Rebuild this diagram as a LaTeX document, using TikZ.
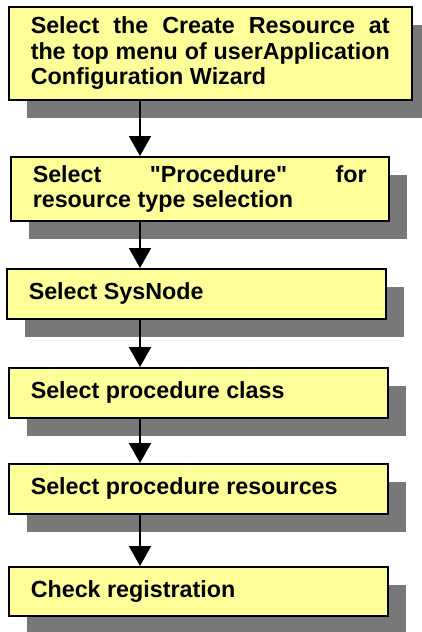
\documentclass[tikz,border=0pt]{standalone}
\usepackage{fontspec}
\setmainfont{Liberation Sans}
\usetikzlibrary{arrows.meta,shadows}
\definecolor{boxyellow}{RGB}{255,255,153}
\definecolor{shadowgray}{RGB}{120,120,120}

\begin{document}
\begin{tikzpicture}[x=1pt,y=1pt,
    stepbox/.style={draw, line width=1.5pt, fill=boxyellow, anchor=north west,
        inner xsep=22pt, inner ysep=0pt, align=justify,
        font=\fontsize{23.3}{25.5}\selectfont\bfseries,
        drop shadow={shadow xshift=18pt, shadow yshift=-18pt, fill=shadowgray, opacity=1}},
    flow/.style={line width=2pt, -{Triangle[width=22pt,length=20pt]}}]
    \useasboundingbox (0,0) rectangle (422,-632);

    \node[stepbox, text width=359pt, minimum height=93pt] (create) at (8,-6)
        {Select the Create Resource at\linebreak the top menu of userApplication Configuration Wizard};
    \node[stepbox, text width=334pt, minimum height=64pt] (proctype) at (10,-156)
        {Select \textquotedbl Procedure\textquotedbl{} for\linebreak resource type selection};
    \node[stepbox, text width=335pt, minimum height=50pt] (sysnode) at (6,-268) {Select SysNode};
    \node[stepbox, text width=335pt, minimum height=50pt] (pclass) at (8,-367) {Select procedure class};
    \node[stepbox, text width=335pt, minimum height=50pt] (pres) at (8,-463) {Select procedure resources};
    \node[stepbox, text width=335pt, minimum height=49pt] (check) at (8,-566) {Check registration};

    \coordinate (ax) at (140,0);
    \draw[flow] (create.south -| ax) -- (proctype.north -| ax);
    \draw[flow] (proctype.south -| ax) -- (sysnode.north -| ax);
    \draw[flow] (sysnode.south -| ax) -- (pclass.north -| ax);
    \draw[flow] (pclass.south -| ax) -- (pres.north -| ax);
    \draw[flow] (pres.south -| ax) -- (check.north -| ax);
\end{tikzpicture}
\end{document}
